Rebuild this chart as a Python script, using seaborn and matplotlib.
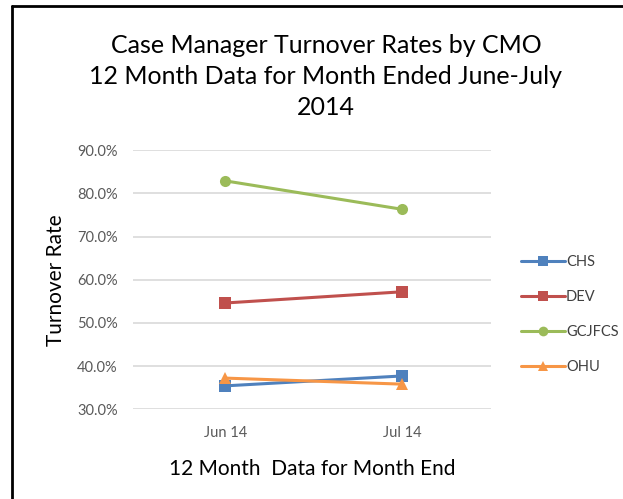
import matplotlib
matplotlib.use("Agg")
import matplotlib.pyplot as plt
import seaborn as sns
import pandas as pd
from matplotlib.ticker import PercentFormatter
from matplotlib.lines import Line2D

# Turnover rates (%) by care management organisation
months = ["Jun 14", "Jul 14"]
cmos = ["CHS", "DEV", "GCJFCS", "OHU"]
chs = [35.4, 37.7]
dev = [54.6, 57.2]
gcjfcs = [82.9, 76.3]
ohu = [37.2, 35.8]

colors = {"CHS": "#4F81BD", "DEV": "#C0504D", "GCJFCS": "#9BBB59", "OHU": "#F79646"}
markers = {"CHS": "s", "DEV": "s", "GCJFCS": "o", "OHU": "^"}

rows = []
for name, vals in zip(cmos, [chs, dev, gcjfcs, ohu]):
    for m, v in zip(months, vals):
        rows.append({"Month": m, "CMO": name, "Rate": v})
df = pd.DataFrame(rows)

sns.set_theme(style="white")
plt.rcParams["font.family"] = ["Lato", "DejaVu Sans"]

fig = plt.figure(figsize=(6.23, 4.99), dpi=100)
ax = fig.add_axes([0.2135, 0.180, 0.5745, 0.519])

sns.lineplot(data=df, x="Month", y="Rate", hue="CMO", style="CMO",
             palette=colors, markers=markers, dashes=False, sort=False,
             linewidth=2.2, markersize=8, markeredgewidth=0, ax=ax, legend=False)

ax.set_ylim(30, 90)
ax.set_yticks([30, 40, 50, 60, 70, 80, 90])
ax.yaxis.set_major_formatter(PercentFormatter(decimals=1))
ax.set_xlim(-0.52, 1.50)
ax.grid(axis="y", color="#D9D9D9", linewidth=1.2)
ax.grid(axis="x", visible=False)
for s in ax.spines.values():
    s.set_visible(False)
ax.tick_params(axis="y", length=0, labelsize=10.5, labelcolor="#595959", pad=11)
ax.tick_params(axis="x", length=0, labelsize=10.5, labelcolor="#595959", pad=12)

ax.set_ylabel("Turnover Rate", fontsize=15, color="#000000", labelpad=8)
ax.set_xlabel("12 Month  Data for Month End", fontsize=15, color="#000000", labelpad=14)

fig.text(0.523, 0.846, "Case Manager Turnover Rates by CMO\n12 Month Data for Month Ended June-July\n2014",
         ha="center", va="center", fontsize=18, linespacing=1.42, color="#000000")

handles = [Line2D([], [], color=colors[c], marker=markers[c], markersize=7,
                  markeredgewidth=0, linewidth=2.2) for c in cmos]
fig.legend(handles, cmos, loc="center left", bbox_to_anchor=(0.815, 0.37),
           frameon=False, fontsize=10.5, handlelength=3.0, handletextpad=0.1,
           labelspacing=1.45, labelcolor="#404040")

# outer frame (left and top edges)
fig.add_artist(Line2D([0.0185, 0.0185], [0, 0.988], transform=fig.transFigure,
                      color="black", linewidth=2))
fig.add_artist(Line2D([0.0185, 1.0], [0.988, 0.988], transform=fig.transFigure,
                      color="black", linewidth=2))

fig.savefig("out.png", dpi=100, facecolor="white")
